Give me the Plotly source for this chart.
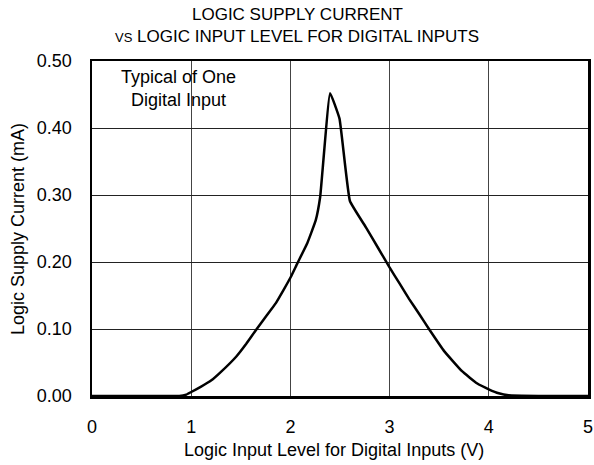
import plotly.graph_objects as go

input_level_v = [0.0, 0.5, 0.88, 0.95, 1.0, 1.1, 1.2, 1.3, 1.455, 1.555, 1.655, 1.755, 1.855, 1.93, 2.005, 2.07,
                 2.17, 2.255, 2.30, 2.40, 2.495, 2.60, 2.76, 2.88, 2.995, 3.1, 3.196, 3.3, 3.397, 3.55, 3.73,
                 3.88, 4.0, 4.1, 4.2, 4.5, 5.0]
supply_current_ma = [0.0, 0.0, 0.0, 0.002, 0.006, 0.014, 0.023, 0.036, 0.059, 0.078, 0.099, 0.119, 0.139, 0.158,
                     0.178, 0.198, 0.228, 0.262, 0.297, 0.452, 0.414, 0.291, 0.252, 0.222, 0.193, 0.168, 0.145,
                     0.122, 0.100, 0.067, 0.037, 0.019, 0.010, 0.004, 0.001, 0.0, 0.0]

x_ticks = [0, 1, 2, 3, 4, 5]
y_ticks = [0.0, 0.1, 0.2, 0.3, 0.4, 0.5]
y_tick_labels = ["0.00", "0.10", "0.20", "0.30", "0.40", "0.50"]

font_family = "Liberation Sans, Arial, sans-serif"
FS = 18

fig = go.Figure()
fig.add_trace(go.Scatter(
    x=input_level_v, y=supply_current_ma, mode="lines",
    line=dict(color="black", width=2.5, shape="spline", smoothing=0.3),
    showlegend=False, hoverinfo="skip",
))

W, H = 594, 465
L, R, T, B = 92, 6, 61, 69
pw, ph = W - L - R, H - T - B

def px_to_paper_x(px):
    return (px - L) / pw

def px_to_paper_y(py):
    return (H - B - py) / ph

fig.update_layout(
    width=W, height=H,
    margin=dict(l=L, r=R, t=T, b=B, autoexpand=False),
    paper_bgcolor="white", plot_bgcolor="white",
    font=dict(family=font_family, size=FS, color="black"),
    annotations=[
        dict(text="LOGIC SUPPLY CURRENT", x=px_to_paper_x(297), y=px_to_paper_y(14),
             xref="paper", yref="paper", xanchor="center", yanchor="middle", showarrow=False,
             font=dict(family=font_family, size=17)),
        dict(text="<span style='font-size:13px'>VS</span> LOGIC INPUT LEVEL FOR DIGITAL INPUTS",
             x=px_to_paper_x(297), y=px_to_paper_y(36),
             xref="paper", yref="paper", xanchor="center", yanchor="middle", showarrow=False,
             font=dict(family=font_family, size=17)),
        dict(text="Typical of One<br>Digital Input", x=0.87, y=0.459, xref="x", yref="y",
             xanchor="center", yanchor="middle", showarrow=False,
             font=dict(family=font_family, size=FS)),
        dict(text="Logic Input Level for Digital Inputs (V)", x=px_to_paper_x(334), y=px_to_paper_y(450),
             xref="paper", yref="paper", xanchor="center", yanchor="middle", showarrow=False,
             font=dict(family=font_family, size=FS)),
        dict(text="Logic Supply Current (mA)", x=px_to_paper_x(18), y=px_to_paper_y(229),
             xref="paper", yref="paper", xanchor="center", yanchor="middle", showarrow=False,
             textangle=-90, font=dict(family=font_family, size=FS)),
    ],
)

fig.update_xaxes(
    range=[0, 5], tickvals=x_ticks, ticktext=[str(t) for t in x_ticks],
    showgrid=True, gridcolor="#444", gridwidth=1,
    showline=True, linecolor="black", linewidth=2.5, mirror=True,
    ticks="", ticklabelstandoff=13, zeroline=False, automargin=False,
    tickfont=dict(family=font_family, size=FS),
)
fig.update_yaxes(
    range=[0, 0.5], tickvals=y_ticks, ticktext=y_tick_labels,
    showgrid=True, gridcolor="#222", gridwidth=1,
    showline=True, linecolor="black", linewidth=2.5, mirror=True,
    ticks="", ticklabelstandoff=14, zeroline=False, automargin=False,
    tickfont=dict(family=font_family, size=FS),
)

fig.write_html(
    "out.html",
    config={"displayModeBar": False, "staticPlot": True},
    post_script="document.body.style.margin='0';document.body.style.overflow='hidden';",
)
